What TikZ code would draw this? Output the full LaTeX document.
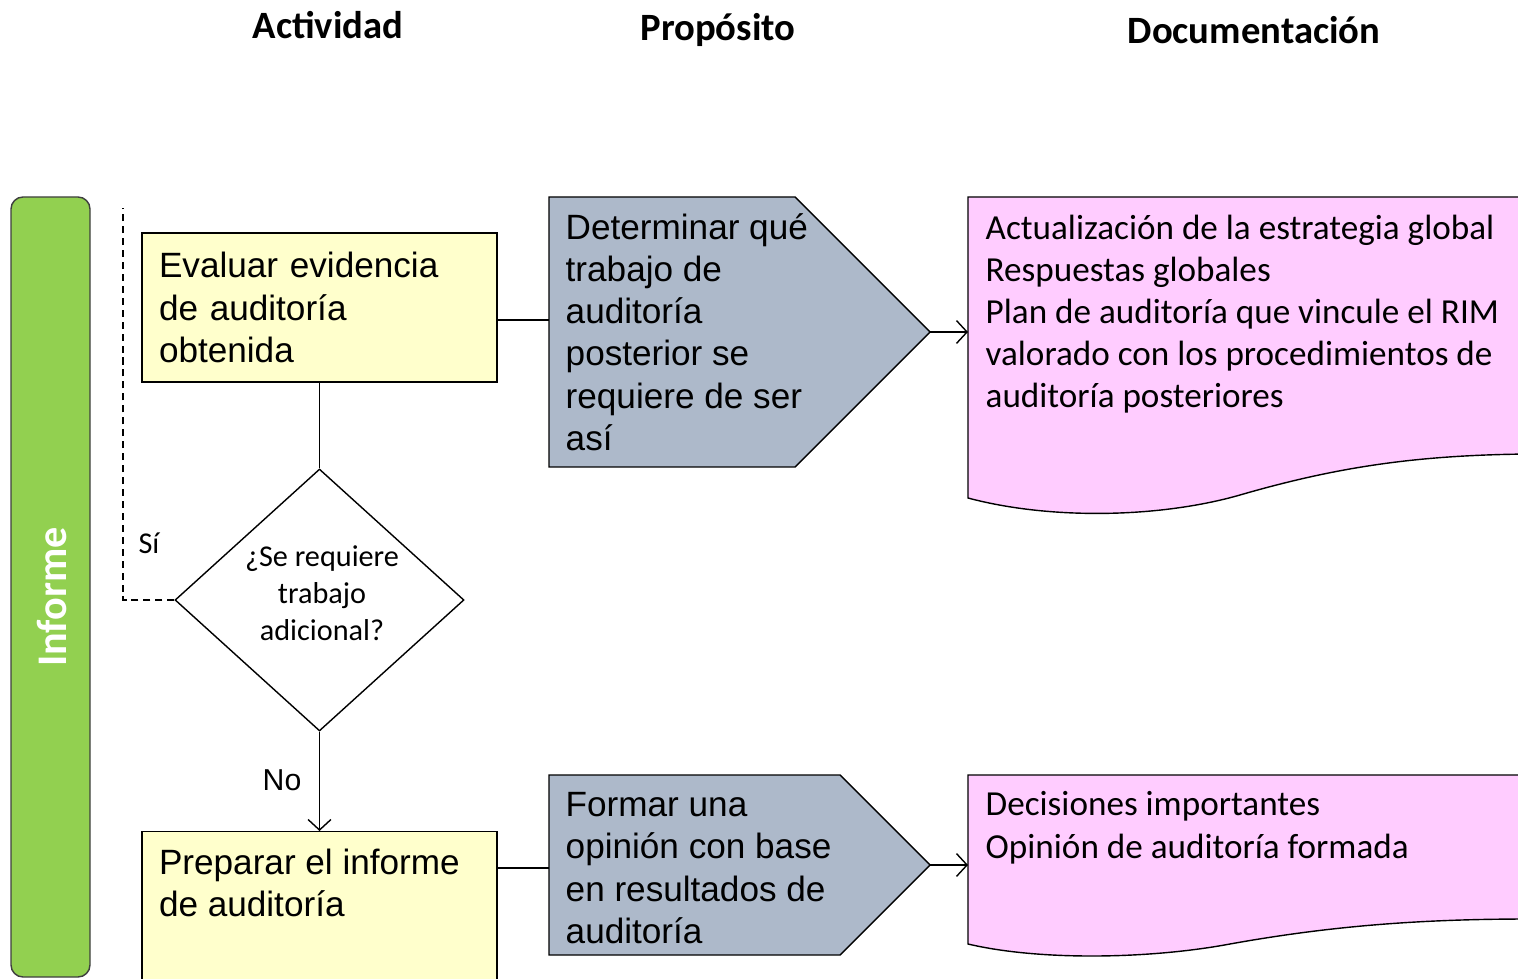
\documentclass[tikz,border=0pt]{standalone}
\usepackage{fontspec}
\setmainfont{Carlito}
\newfontfamily\arialfont{Liberation Sans}
\usepackage{xcolor}
\usepackage{tikz}
\usetikzlibrary{arrows.meta,shapes.geometric,positioning}
\definecolor{barGreen}{HTML}{92D050}
\definecolor{actYellow}{HTML}{FFFFCC}
\definecolor{purpGray}{HTML}{ADB9CA}
\definecolor{docPink}{HTML}{FFCCFF}
\definecolor{edgeGray}{HTML}{3F3F3F}

\begin{document}
\begin{tikzpicture}[
    every node/.style={inner sep=0pt},
    head/.style={font=\fontsize{11}{13}\selectfont\bfseries},
    actfont/.style={font=\arialfont\fontsize{10}{12}\selectfont},
    actbox/.style={draw, fill=actYellow, actfont, text width=3.21cm, inner xsep=0.17cm, align=left},
    purp/.style={draw, fill=purpGray},
    doc/.style={draw, fill=docPink},
    doctext/.style={font=\fontsize{10}{12}\selectfont, align=left, anchor=north west},
    small/.style={font=\fontsize{8.6}{10.5}\selectfont},
    flow/.style={-{Straight Barb[length=3pt,width=6.5pt]}}
]
    \useasboundingbox (0,0) rectangle (15.18,9.78);
    \clip (0,0) rectangle (15.18,9.78);

    % Column titles
    \node[head] (tact) at (3.28,9.53) {Actividad};
    \node[head] (tpur) at (7.18,9.48) {Propósito};
    \node[head] (tdoc) at (12.54,9.48) {Documentación};

    % Phase bar
    \draw[edgeGray, fill=barGreen, rounded corners=0.12cm] (0.11,0.01) rectangle (0.90,7.81);
    \node[rotate=90, text=white, font=\fontsize{12}{14}\selectfont\bfseries] (informe) at (0.52,3.81) {Informe};

    % Activity column
    \node[actbox, minimum height=1.49cm] (eval) at (3.195,6.705) {Evaluar evidencia\\de auditoría\\obtenida};
    \node[draw, diamond, fill=white, minimum width=2.89cm, minimum height=2.62cm] (dec) at (3.195,3.78) {};
    \node[small, align=center] (dectxt) at (3.22,3.85) {¿Se requiere\\trabajo\\adicional?};
    \node[draw, fill=actYellow, minimum width=3.55cm, minimum height=1.8cm, anchor=north] (prep) at (3.195,1.47) {};
    \node[actfont, align=left, anchor=north west] (preptxt) at ([xshift=0.17cm,yshift=-0.17cm]prep.north west) {Preparar el informe\\de auditoría};

    % Purpose column
    \draw[purp] (5.49,7.81) -- (7.95,7.81) -- (9.30,6.46) coordinate (dettip) -- (7.95,5.11) -- (5.49,5.11) -- cycle;
    \node[actfont, align=left, anchor=west] (det) at (5.65,6.46) {Determinar qué\\trabajo de\\auditoría\\posterior se\\requiere de ser\\así};
    \draw[purp] (5.49,2.03) -- (8.40,2.03) -- (9.30,1.13) coordinate (fortip) -- (8.40,0.23) -- (5.49,0.23) -- cycle;
    \node[actfont, align=left, anchor=west] (form) at (5.65,1.10) {Formar una\\opinión con base\\en resultados de\\auditoría};

    % Documentation column
    \draw[doc] (15.3,5.24) -- (15.3,7.81) -- (9.68,7.81) -- (9.68,4.80)
        .. controls (10.5,4.58) and (11.6,4.60) .. (12.4,4.83)
        .. controls (13.4,5.12) and (14.2,5.23) .. (15.3,5.24);
    \node[doctext] (doc1) at (9.85,7.64) {Actualización de la estrategia global\\Respuestas globales\\Plan de auditoría que vincule el RIM\\valorado con los procedimientos de\\auditoría posteriores};
    \draw[doc] (15.3,0.59) -- (15.3,2.03) -- (9.68,2.03) -- (9.68,0.34)
        .. controls (10.4,0.17) and (11.5,0.19) .. (12.3,0.34)
        .. controls (13.3,0.52) and (14.2,0.59) .. (15.3,0.59);
    \node[doctext] (doc2) at (9.85,1.87) {Decisiones importantes\\Opinión de auditoría formada};

    % Connectors
    \coordinate (detin) at (5.49,6.58);
    \coordinate (forin) at (5.49,1.10);
    \coordinate (doc1in) at (9.68,6.46);
    \coordinate (doc2in) at (9.68,1.13);
    \coordinate (sitop) at (1.23,7.70);
    \draw (eval.south) -- (dec.north);
    \draw[flow] (dec.south) -- (prep.north);
    \draw[dash pattern=on 2pt off 1.4pt] (dec.west) -| (sitop);
    \draw (eval.east |- detin) -- (detin);
    \draw (prep.east |- forin) -- (forin);
    \draw[flow] (dettip) -- (doc1in);
    \draw[flow] (fortip) -- (doc2in);
    \node[small] (si) at (1.49,4.35) {Sí};
    \node[small, font=\arialfont\fontsize{8.6}{10.5}\selectfont] (no) at (2.82,1.98) {No};
\end{tikzpicture}
\end{document}
